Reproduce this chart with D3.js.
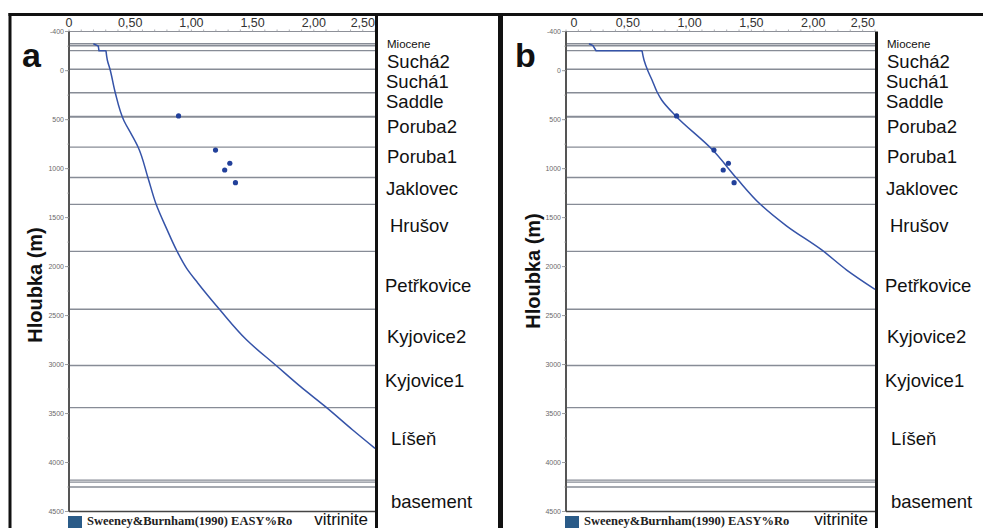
<!DOCTYPE html>
<meta charset="utf-8">
<script src="https://d3js.org/d3.v7.min.js"></script>
<style>
  body { margin: 0; background: #fff; }
  text { font-family: "Liberation Sans", Arial, sans-serif; }
</style>
<div id="screen"></div>
<script>
  // ---- data ----
  var xTicks = [0, 0.5, 1.0, 1.5, 2.0, 2.5];
  var xTickLabels = ["0", "0,50", "1,00", "1,50", "2,00", "2,50"];
  var yTicks = [-400, 0, 500, 1000, 1500, 2000, 2500, 3000, 3500, 4000, 4500];

  // formation boundaries (depth, m)
  var boundaries = [-275, -255, -205, -15, 225, 466, 474, 780, 1090, 1365, 1845, 2435, 3010, 3440, 4180, 4200, 4250];

  var formations = ["Miocene", "Suchá2", "Suchá1", "Saddle", "Poruba2", "Poruba1", "Jaklovec",
                    "Hrušov", "Petřkovice", "Kyjovice2", "Kyjovice1", "Líšeň", "basement"];
  var formationDepths = [-236, -32, 177, 381, 636, 942, 1269, 1647, 2259, 2780, 3229, 3821, 4464];
  var formationIndent = [0, 0, -1, -1, 0, 0, -1, 3, -2, 0, -2, 4, 4];
  var formationSmall = ["Miocene"];

  // measured vitrinite reflectance
  var sampleRo = [0.895, 1.197, 1.314, 1.272, 1.360];
  var sampleDepth = [462, 810, 945, 1014, 1143];

  // model curve, panel a (first 4 points = shallow step, rest smooth)
  var curveARo = [0.199, 0.239, 0.245, 0.302, 0.313, 0.335, 0.376, 0.449, 0.510, 0.564, 0.645, 0.711,
                  0.800, 0.882, 0.960, 1.052, 1.234, 1.452, 1.697, 1.892, 2.095, 2.318, 2.500];
  var curveADepth = [-275, -252, -204, -204, -109, -14, 215, 511, 650, 779, 1092, 1361,
                     1620, 1841, 2015, 2167, 2443, 2749, 3015, 3226, 3430, 3668, 3855];

  // model curve, panel b
  var curveBRo = [0.186, 0.218, 0.243, 0.615, 0.631, 0.663, 0.696, 0.736, 0.774, 0.888, 1.187,
                  1.381, 1.570, 1.786, 2.069, 2.271, 2.500];
  var curveBDepth = [-275, -257, -204, -204, -109, 3, 95, 215, 299, 462, 810,
                     1099, 1361, 1586, 1830, 2035, 2232];

  var legendModel = "Sweeney&Burnham(1990)  EASY%Ro";
  var legendMeasured = "vitrinite";

  // ---- layout ----
  var W = 983, H = 528;
  var svg = d3.select("#screen").append("svg")
      .attr("width", W).attr("height", H);

  var y = d3.scaleLinear().domain([-400, 4500]).range([31.5, 511.5]);

  var panels = [
    { letter: "a", x0: 69, x1: 375, ro: curveARo, depth: curveADepth, fullDivider: true, ytitleY: 285, ytitleX: 42, letterX: 22 },
    { letter: "b", x0: 566, x1: 875, ro: curveBRo, depth: curveBDepth, fullDivider: false, ytitleY: 271, ytitleX: 540, letterX: 515 }
  ];

  var gridColor = "#878c96";
  var lineColor = "#3553a8";
  var dotColor = "#22409a";

  panels.forEach(function(p) {
    var x = d3.scaleLinear().domain([0, 2.5]).range([p.x0, p.x1]);
    var g = svg.append("g");

    // formation boundary lines
    g.selectAll("line.bnd").data(boundaries).enter().append("line")
        .attr("x1", p.x0).attr("x2", p.x1)
        .attr("y1", function(d) { return y(d); })
        .attr("y2", function(d) { return y(d); })
        .style("stroke", gridColor).style("stroke-width", 1.4);

    // top axis
    var top = g.append("g").attr("transform", "translate(0," + y(-400) + ")");
    top.append("line").attr("x1", p.x0).attr("x2", p.x1)
        .style("stroke", "#8d9098").style("stroke-width", 1.2);
    top.selectAll("line.minor").data(d3.range(0, 2.51, 0.1)).enter().append("line")
        .attr("x1", function(d) { return x(d); }).attr("x2", function(d) { return x(d); })
        .attr("y1", 0).attr("y2", -2)
        .style("stroke", "#9a9da4").style("stroke-width", 0.8);
    top.selectAll("text").data(xTicks).enter().append("text")
        .attr("x", function(d, i) { return x(d) + (i === 0 && p.letter === "b" ? 8 : 0); })
        .attr("y", -5)
        .attr("text-anchor", function(d, i) { return i === xTicks.length - 1 ? "end" : "middle"; })
        .style("font-size", "12.5px").style("fill", "#333")
        .text(function(d, i) { return xTickLabels[i]; });

    // left axis
    var left = g.append("g").attr("transform", "translate(" + p.x0 + ",0)");
    left.append("line").attr("y1", y(-400)).attr("y2", y(4500))
        .style("stroke", "#555").style("stroke-width", 2);
    left.selectAll("line.minor").data(d3.range(-250, 4500, 250)).enter().append("line")
        .attr("x1", -2).attr("x2", 0)
        .attr("y1", function(d) { return y(d); }).attr("y2", function(d) { return y(d); })
        .style("stroke", "#aaa").style("stroke-width", 0.7);
    left.selectAll("line.major").data(yTicks).enter().append("line")
        .attr("x1", -4).attr("x2", 0)
        .attr("y1", function(d) { return y(d); }).attr("y2", function(d) { return y(d); })
        .style("stroke", "#888").style("stroke-width", 0.8);
    left.selectAll("text").data(yTicks).enter().append("text")
        .attr("x", -5)
        .attr("y", function(d) { return y(d) + 2.5; })
        .attr("text-anchor", "end")
        .style("font-size", "7px").style("fill", "#6a6a6a")
        .text(function(d) { return d; });

    // bottom line of plot
    g.append("line").attr("x1", p.x0).attr("x2", p.x1)
        .attr("y1", y(4500)).attr("y2", y(4500))
        .style("stroke", "#444").style("stroke-width", 1.5);

    // right edge / divider
    g.append("line").attr("x1", p.x1 + 1.5).attr("x2", p.x1 + 1.5)
        .attr("y1", p.fullDivider ? 14 : y(-400)).attr("y2", H)
        .style("stroke", "#111").style("stroke-width", 3);

    // model curve: shallow step drawn straight, the rest smoothed
    var pts = p.ro.map(function(r, i) { return [r, p.depth[i]]; });
    var lineStraight = d3.line().x(function(d) { return x(d[0]); }).y(function(d) { return y(d[1]); });
    var lineSmooth = d3.line().curve(d3.curveMonotoneY)
        .x(function(d) { return x(d[0]); }).y(function(d) { return y(d[1]); });
    g.append("path").datum(pts.slice(0, 4))
        .attr("d", lineStraight)
        .style("fill", "none").style("stroke", lineColor).style("stroke-width", 1.5);
    g.append("path").datum(pts.slice(3))
        .attr("d", lineSmooth)
        .style("fill", "none").style("stroke", lineColor).style("stroke-width", 1.5);

    // measured points
    g.selectAll("circle").data(sampleRo).enter().append("circle")
        .attr("cx", function(d) { return x(d); })
        .attr("cy", function(d, i) { return y(sampleDepth[i]); })
        .attr("r", 2.6).style("fill", dotColor);

    // formation labels
    g.selectAll("text.fm").data(formations).enter().append("text")
        .attr("x", function(d, i) { return p.x1 + 12 + formationIndent[i]; })
        .attr("y", function(d, i) { return y(formationDepths[i]); })
        .style("font-size", function(d) { return formationSmall.indexOf(d) >= 0 ? "11.5px" : "18.5px"; })
        .style("fill", "#111")
        .text(function(d) { return d; });

    // panel letter
    g.append("text").attr("x", p.letterX).attr("y", 67)
        .style("font-size", "34px").style("font-weight", "bold").style("fill", "#111")
        .text(p.letter);

    // y title
    g.append("text")
        .attr("transform", "translate(" + p.ytitleX + "," + p.ytitleY + ") rotate(-90)")
        .attr("text-anchor", "middle")
        .style("font-size", "20px").style("font-weight", "bold").style("fill", "#111")
        .text("Hloubka (m)");

    // legend
    g.append("rect").attr("x", p.x0 - 1).attr("y", 516).attr("width", 14).attr("height", 12)
        .style("fill", "#2a5b88");
    g.append("text").attr("x", p.x0 + 18).attr("y", 525)
        .style("font-family", "'Liberation Serif', 'Times New Roman', serif")
        .style("font-size", "12.5px").style("font-weight", "bold").style("fill", "#222")
        .text(legendModel);
    g.append("text").attr("x", p.x1 - 7).attr("y", 525)
        .attr("text-anchor", "end")
        .style("font-size", "17px").style("fill", "#111")
        .text(legendMeasured);
  });

  // outer frames
  svg.append("line").attr("x1", 10).attr("x2", 10).attr("y1", 13).attr("y2", H)
      .style("stroke", "#111").style("stroke-width", 3);
  svg.append("line").attr("x1", 8.5).attr("x2", W).attr("y1", 14.5).attr("y2", 14.5)
      .style("stroke", "#111").style("stroke-width", 3);
  svg.append("line").attr("x1", 500.5).attr("x2", 500.5).attr("y1", 13).attr("y2", H)
      .style("stroke", "#111").style("stroke-width", 5);
</script>
